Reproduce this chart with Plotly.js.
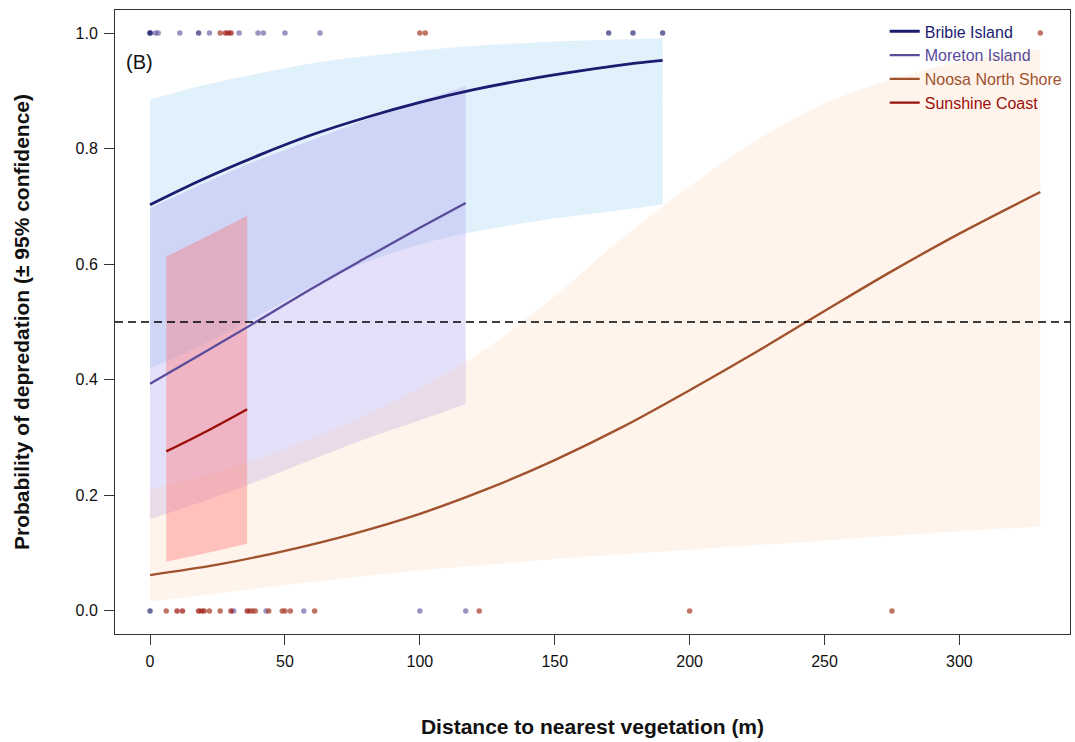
<!DOCTYPE html>
<html>
<head>
<meta charset="utf-8">
<script src="https://cdn.plot.ly/plotly-3.0.1.min.js"></script>
<style>html,body{margin:0;padding:0;background:#fff}#chart{width:1075px;height:742px}</style>
</head>
<body>
<div id="chart"></div>
<script>
// ---- Data ----
const siteNames = ['Bribie Island', 'Moreton Island', 'Noosa North Shore', 'Sunshine Coast'];

// Fitted curves and 95% confidence limits
const bribieX   = [0, 20, 40, 60, 80, 100, 120, 140, 160, 180, 190];
const bribieFit = [0.703, 0.748, 0.788, 0.824, 0.854, 0.880, 0.902, 0.920, 0.935, 0.948, 0.953];
const bribieUp  = [0.885, 0.910, 0.930, 0.948, 0.960, 0.970, 0.978, 0.983, 0.987, 0.990, 0.991];
const bribieLo  = [0.420, 0.462, 0.510, 0.562, 0.603, 0.634, 0.656, 0.672, 0.685, 0.697, 0.704];

const moretonX   = [0, 20, 40, 60, 80, 100, 117];
const moretonFit = [0.393, 0.447, 0.502, 0.558, 0.611, 0.663, 0.706];
const moretonUp  = [0.697, 0.740, 0.780, 0.815, 0.850, 0.882, 0.908];
const moretonLo  = [0.159, 0.190, 0.225, 0.262, 0.298, 0.330, 0.358];

const noosaX   = [0, 25, 50, 75, 100, 125, 150, 175, 200, 225, 250, 275, 300, 330];
const noosaFit = [0.062, 0.080, 0.104, 0.133, 0.168, 0.211, 0.261, 0.318, 0.382, 0.449, 0.519, 0.588, 0.653, 0.725];
const noosaUp  = [0.210, 0.240, 0.280, 0.328, 0.385, 0.455, 0.545, 0.645, 0.735, 0.815, 0.878, 0.920, 0.950, 0.972];
const noosaLo  = [0.016, 0.030, 0.045, 0.058, 0.070, 0.080, 0.090, 0.098, 0.106, 0.114, 0.122, 0.130, 0.138, 0.146];

const sunX   = [6, 21, 36];
const sunFit = [0.276, 0.311, 0.349];
const sunUp  = [0.613, 0.648, 0.684];
const sunLo  = [0.085, 0.100, 0.116];

// Observations (distance, outcome 0/1)
const bribieObsX  = [0, 0, 18, 170, 179, 190, 0];
const bribieObsY  = [1, 1, 1, 1, 1, 1, 0];
const moretonObsX = [2, 3, 11, 22, 33, 40, 42, 50, 63, 31, 43, 57, 100, 117];
const moretonObsY = [1, 1, 1, 1, 1, 1, 1, 1, 1, 0, 0, 0, 0, 0];
const noosaObsX   = [26, 29, 100, 102, 330, 6, 19, 22, 26, 37, 38, 39, 44, 49, 50, 52, 61, 122, 200, 275];
const noosaObsY   = [1, 1, 1, 1, 1, 0, 0, 0, 0, 0, 0, 0, 0, 0, 0, 0, 0, 0, 0, 0];
const sunObsX     = [28, 30, 10, 12, 18, 20, 30, 36];
const sunObsY     = [1, 1, 0, 0, 0, 0, 0, 0];

const threshold = 0.5;
const xTicks = [0, 50, 100, 150, 200, 250, 300];
const yTicks = [0, 0.2, 0.4, 0.6, 0.8, 1.0];

// ---- Styles ----
const lineCol  = ['#1b1b6f', '#5a4b9b', '#a0522d', '#9b0f0a'];
const bandCol  = ['rgba(135,200,240,0.25)', 'rgba(150,130,230,0.25)', 'rgba(250,200,160,0.20)', 'rgba(255,110,110,0.38)'];
const ptCol    = ['rgba(27,27,111,0.65)', 'rgba(90,75,155,0.6)', 'rgba(170,70,50,0.75)', 'rgba(155,15,10,0.7)'];
const lineW    = [2.8, 2.3, 2.4, 2.4];

// a confidence band = invisible lower edge + upper edge filled down to it
function band(x, up, lo, i) {
  return [
    {
      x: x, y: lo, type: 'scatter', mode: 'lines',
      line: {width: 0, color: 'rgba(0,0,0,0)', shape: 'spline'},
      hoverinfo: 'skip', showlegend: false
    },
    {
      x: x, y: up, type: 'scatter', mode: 'lines', fill: 'tonexty',
      fillcolor: bandCol[i], line: {width: 0, color: 'rgba(0,0,0,0)', shape: 'spline'},
      hoverinfo: 'skip', showlegend: false
    }
  ];
}
function fit(x, y, i) {
  return {
    x: x, y: y, type: 'scatter', mode: 'lines',
    line: {color: lineCol[i], width: lineW[i], shape: 'spline'},
    name: '<span style="color:' + lineCol[i] + '">' + siteNames[i] + '</span>',
    legendrank: i + 1
  };
}
function pts(x, y, i) {
  return {
    x: x, y: y, type: 'scatter', mode: 'markers',
    marker: {color: ptCol[i], size: 5.5, line: {width: 0}},
    showlegend: false, hoverinfo: 'x+y'
  };
}

const traces = [].concat(
  band(bribieX, bribieUp, bribieLo, 0),
  band(moretonX, moretonUp, moretonLo, 1),
  band(noosaX, noosaUp, noosaLo, 2),
  band(sunX, sunUp, sunLo, 3),
  [
    fit(bribieX, bribieFit, 0),
    fit(moretonX, moretonFit, 1),
    fit(noosaX, noosaFit, 2),
    fit(sunX, sunFit, 3),
    pts(bribieObsX, bribieObsY, 0),
    pts(moretonObsX, moretonObsY, 1),
    pts(noosaObsX, noosaObsY, 2),
    pts(sunObsX, sunObsY, 3)
  ]
);

const font = 'Arial, "Liberation Sans", Helvetica, sans-serif';

const layout = {
  width: 1075, height: 742,
  margin: {l: 115, r: 5, t: 10, b: 108},
  paper_bgcolor: '#fff', plot_bgcolor: '#fff',
  font: {family: font, color: '#111', size: 16},
  showlegend: true,
  legend: {
    x: 0.806, y: 0.993, xanchor: 'left', yanchor: 'top',
    traceorder: 'normal',
    bgcolor: 'rgba(0,0,0,0)', borderwidth: 0,
    font: {family: font, size: 16}, tracegroupgap: 0, itemwidth: 30
  },
  xaxis: {
    range: [-13, 341], tickvals: xTicks, ticktext: xTicks.map(String),
    ticks: 'outside', ticklen: 10, tickcolor: '#333', tickwidth: 1,
    showline: true, mirror: true, linecolor: '#333', linewidth: 1,
    showgrid: false, zeroline: false, ticklabelstandoff: 3,
    tickfont: {size: 16, family: font, color: '#111'},
    title: {text: '<b>Distance to nearest vegetation (m)</b>', font: {size: 21, family: font, color: '#111'}, standoff: 50}
  },
  yaxis: {
    range: [-0.04, 1.04], tickvals: yTicks, ticktext: yTicks.map(v => v.toFixed(1)),
    ticks: 'outside', ticklen: 10, tickcolor: '#333', tickwidth: 1,
    showline: true, mirror: true, linecolor: '#333', linewidth: 1,
    showgrid: false, zeroline: false, ticklabelstandoff: 3,
    tickfont: {size: 16, family: font, color: '#111'},
    title: {text: '<b>Probability of depredation (± 95% confidence)</b>', font: {size: 21, family: font, color: '#111'}, standoff: 40}
  },
  shapes: [{
    type: 'line', xref: 'paper', x0: 0, x1: 1, yref: 'y', y0: threshold, y1: threshold,
    line: {color: '#000', width: 1.3, dash: '8px,5px'}
  }],
  annotations: [{
    xref: 'paper', yref: 'paper', x: 0.009, y: 0.917, xanchor: 'left', yanchor: 'middle',
    text: '(B)', showarrow: false, font: {size: 20, family: font, color: '#111'}
  }]
};

Plotly.newPlot('chart', traces, layout, {displayModeBar: false, responsive: false});
</script>
</body>
</html>
